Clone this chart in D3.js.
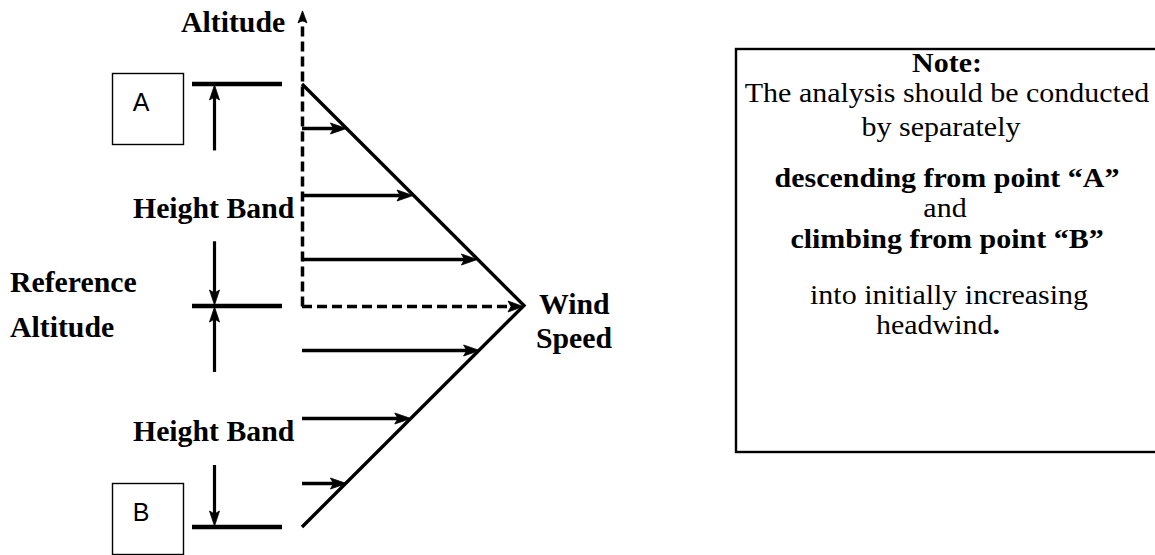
<!DOCTYPE html>
<html>
<head>
<meta charset="utf-8">
<script src="https://cdn.jsdelivr.net/npm/d3@7"></script>
<style>
  html, body { margin: 0; padding: 0; background: #fff; }
  svg { display: block; }
</style>
</head>
<body>
<svg id="chart" width="1155" height="555"></svg>
<script>
// ---------------- data ----------------
// wind profile (altitude relative to reference: +1 = point A level, -1 = point B level)
const profileAltitude = [1, 0, -1];
const profileWind = [0, 1, 0];
// wind arrows drawn at these altitudes, with their speeds
const arrowAltitudes = [0.8, 0.5, 0.21, -0.2, -0.51, -0.8];
const arrowWinds = [0.2, 0.5, 0.79, 0.8, 0.49, 0.2];
// level bars on the left (A, reference, B)
const levelAltitudes = [1, 0, -1];
// height-band dimension arrows: start altitude -> end altitude
const dimFrom = [0.70, 0.29, -0.30, -0.72];
const dimTo = [1, 0, 0, -1];
// altitude axis top
const axisTopAltitude = 1.33;
// labels
const boxLabels = ["A", "B"];
const diagramLabels = ["Altitude", "Height Band", "Reference", "Altitude", "Height Band", "Wind", "Speed"];
const noteLines = [
  { text: "Note:", bold: true },
  { text: "The analysis should be conducted", bold: false },
  { text: "by separately", bold: false },
  { text: "descending from point \u201CA\u201D", bold: true },
  { text: "and", bold: false },
  { text: "climbing from point \u201CB\u201D", bold: true },
  { text: "into initially increasing", bold: false },
  { text: "headwind", bold: false, tail: "." }
];

// ---------------- layout ----------------
const svg = d3.select("#chart");
const x = d3.scaleLinear().domain([0, 1]).range([302, 524]);
const y = d3.scaleLinear().domain([-1, 1]).range([527, 84]);
const py = a => Math.round(y(a)) + 0.5;
const serif = "'Liberation Serif', 'Times New Roman', serif";
const sans = "'Liberation Sans', Arial, sans-serif";

function head(g, tx, ty, dir, len, half) {
  const [dx, dy] = dir;
  const px = -dy, pyy = dx;
  const bx = tx - dx * len, by = ty - dy * len;
  const nx = tx - dx * len * 0.8, ny = ty - dy * len * 0.8;
  g.append("path")
    .attr("d", `M${tx},${ty}L${bx + px * half},${by + pyy * half}L${nx},${ny}L${bx - px * half},${by - pyy * half}Z`)
    .attr("fill", "#000").attr("stroke", "#000").attr("stroke-width", 0.8).attr("stroke-linejoin", "round");
}

function label(g, t, cx, by, anchor, size, bold, stretch) {
  return g.append("text")
    .attr("transform", `translate(${cx},${by}) scale(${stretch},1)`)
    .attr("text-anchor", anchor)
    .attr("font-family", serif).attr("font-size", size)
    .attr("font-weight", bold ? "bold" : "normal")
    .text(t);
}

const g = svg.append("g");

// altitude axis (dashed vertical)
g.append("line")
  .attr("x1", x(0) + 0.5).attr("x2", x(0) + 0.5)
  .attr("y1", py(0)).attr("y2", y(axisTopAltitude) + 6)
  .attr("stroke", "#000").attr("stroke-width", 3.5).attr("stroke-dasharray", "10,5");
head(g, x(0) + 0.5, y(axisTopAltitude), [0, -1], 12, 4.5);

// reference dashed horizontal to peak wind
g.append("line")
  .attr("x1", x(0)).attr("x2", x(1) - 8)
  .attr("y1", py(0)).attr("y2", py(0))
  .attr("stroke", "#000").attr("stroke-width", 3.5).attr("stroke-dasharray", "10,5");
head(g, x(1) - 1, py(0), [1, 0], 15, 5.5);

// wind profile line
const line = d3.line().x(d => x(d[0])).y(d => y(d[1]));
g.append("path")
  .attr("d", line(d3.zip(profileWind, profileAltitude)))
  .attr("fill", "none").attr("stroke", "#000").attr("stroke-width", 3.4)
  .attr("stroke-linejoin", "miter");

// wind arrows
arrowAltitudes.forEach((a, i) => {
  const tip = x(arrowWinds[i]);
  g.append("line")
    .attr("x1", x(0)).attr("x2", tip - 10)
    .attr("y1", py(a)).attr("y2", py(a))
    .attr("stroke", "#000").attr("stroke-width", 3.5);
  head(g, tip, py(a), [1, 0], 16, 5.5);
});

// level bars
levelAltitudes.forEach(a => {
  g.append("line")
    .attr("x1", 192).attr("x2", 282)
    .attr("y1", Math.round(y(a))).attr("y2", Math.round(y(a)))
    .attr("stroke", "#000").attr("stroke-width", 4.5);
});

// dimension arrows
dimFrom.forEach((a, i) => {
  const t = dimTo[i];
  const dir = t > a ? [0, -1] : [0, 1];
  const tipY = Math.round(y(t)) + (dir[1] > 0 ? -1 : 1);
  g.append("line")
    .attr("x1", 214.5).attr("x2", 214.5)
    .attr("y1", y(a)).attr("y2", tipY - dir[1] * 10)
    .attr("stroke", "#000").attr("stroke-width", 3.2);
  head(g, 214.5, tipY, dir, 15, 5);
});

// boxes A and B
const boxY = [73, 483];
boxLabels.forEach((t, i) => {
  g.append("rect")
    .attr("x", 112.5).attr("y", boxY[i] + 0.5)
    .attr("width", 71).attr("height", 71)
    .attr("fill", "none").attr("stroke", "#000").attr("stroke-width", 1.4);
  g.append("text")
    .attr("x", 141).attr("y", boxY[i] + 38)
    .attr("text-anchor", "middle")
    .attr("font-family", sans).attr("font-size", 25)
    .text(t);
});

// diagram labels
const labelPos = [
  { x: 181, y: 32 },
  { x: 133, y: 218 },
  { x: 10, y: 292 },
  { x: 10, y: 337 },
  { x: 133, y: 441 },
  { x: 539, y: 314 },
  { x: 536, y: 348 }
];
diagramLabels.forEach((t, i) => {
  label(g, t, labelPos[i].x, labelPos[i].y, "start", 28.5, true, 1.045);
});

// note box
g.append("rect")
  .attr("x", 736).attr("y", 49)
  .attr("width", 440).attr("height", 403)
  .attr("fill", "none").attr("stroke", "#000").attr("stroke-width", 2.4);

const noteBaselines = [72, 102, 136, 187, 217, 248, 304, 334];
const noteDx = [0, 0, -6, 0, -2, 0, 2, -9];
noteLines.forEach((l, i) => {
  const t = label(g, "", 947 + noteDx[i], noteBaselines[i], "middle", 27, l.bold, 1.11);
  t.append("tspan").text(l.text);
  if (l.tail) t.append("tspan").attr("font-weight", "bold").text(l.tail);
});
</script>
</body>
</html>
